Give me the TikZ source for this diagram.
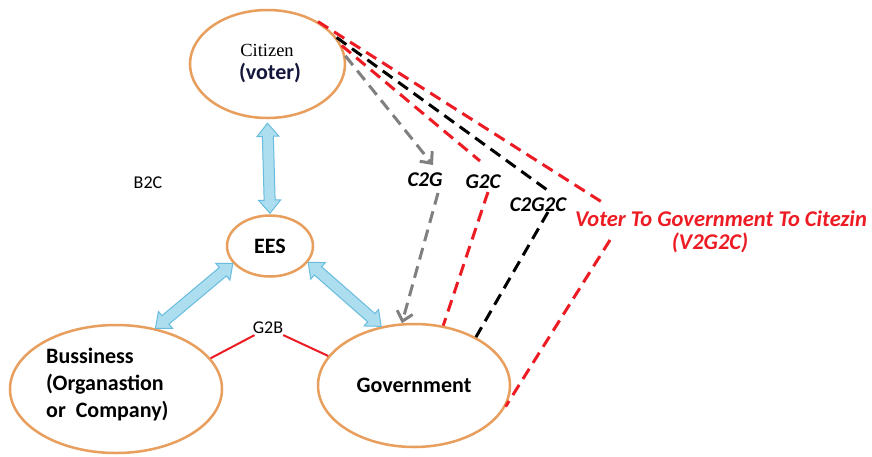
\documentclass[tikz,border=0pt]{standalone}
\usepackage{fontspec}
\setmainfont{Carlito}
\newfontfamily\citserif{Liberation Serif}
\usetikzlibrary{shapes.geometric,shapes.arrows,arrows.meta,calc}

\definecolor{ovalc}{RGB}{232,158,92}
\definecolor{arrowfill}{RGB}{172,222,240}
\definecolor{arrowedge}{RGB}{105,188,222}
\definecolor{linkred}{RGB}{237,28,36}
\definecolor{linkgray}{RGB}{128,128,128}
\definecolor{voterc}{RGB}{20,22,60}

% wide two-headed arrow laid between two points
\newcommand\bluelink[2]{%
  \path let \p1=(#1), \p2=(#2),
    \n1={veclen(\x2-\x1,\y2-\y1)}, \n2={atan2(\y2-\y1,\x2-\x1)} in
    node[bluearrow, minimum height=\n1, rotate=\n2] at ($(#1)!0.5!(#2)$) {\rule{0pt}{10pt}};}

\begin{document}
\begin{tikzpicture}[x=1pt,y=-1pt,
  oval/.style={ellipse, draw=ovalc, line width=2.5pt, inner sep=0pt},
  bluearrow/.style={double arrow, draw=arrowedge, fill=arrowfill, line width=1pt,
    inner sep=0pt, minimum width=0pt, double arrow head extend=5.5pt,
    double arrow tip angle=80},
  bigtext/.style={font=\bfseries\fontsize{22}{27}\selectfont},
  smalltext/.style={font=\fontsize{18}{20}\selectfont, inner sep=1pt},
  flowlabel/.style={font=\bfseries\itshape\fontsize{21}{24}\selectfont},
  dashlink/.style={line width=3pt, dash pattern=on 12pt off 7pt},
  barb/.style={-{Straight Barb[length=9pt,width=16pt,line width=3pt]}}
]
\useasboundingbox[fill=white] (0,0) rectangle (872,456);

% actors
\node[oval, minimum width=155pt, minimum height=108pt] (cit) at (267.5,64) {};
\node[font=\citserif\fontsize{18.5}{20}\selectfont] (citname) at (267,50) {Citizen};
\node[bigtext, text=voterc] (voter) at (270,73) {(voter)};
\node[oval, minimum width=86pt, minimum height=61pt, bigtext] (ees) at (270,246) {EES};
\node[oval, minimum width=212pt, minimum height=128pt] (bus) at (116,389) {};
\node[bigtext, anchor=west, align=left, inner sep=0pt] (busname) at (46,385)
  {Bussiness\\(Organastion\\or~ Company)};
\node[oval, minimum width=192pt, minimum height=123pt, bigtext] (gov) at (414,385.5) {Government};

% exchanges through EES
\bluelink{[yshift=-4pt]cit.south}{[yshift=1pt]ees.north}
\bluelink{ees.205}{bus.57}
\bluelink{ees.-23}{gov.119}

% side labels
\node[smalltext] (b2c) at (148,183) {B2C};
\node[smalltext] (g2b) at (268,328) {G2B};
\draw[linkred, line width=2pt] (bus.18.6) -- (g2b);
\draw[linkred, line width=2pt] (g2b) -- (gov.161.6);

% flow labels
\node[flowlabel] (c2g) at (425,180) {C2G};
\node[flowlabel] (g2c) at (483,182) {G2C};
\node[flowlabel] (c2g2c) at (538,205) {C2G2C};
\node[flowlabel, font=\bfseries\itshape\fontsize{22.5}{24}\selectfont, text=linkred] (v2g2c) at (721,219) {Voter To Government To Citezin};
\node[flowlabel, font=\bfseries\itshape\fontsize{22.5}{24}\selectfont, text=linkred] (v2g2cshort) at (710,243) {(V2G2C)};

% break points around the flow labels
\coordinate (c2gin) at (433,165);
\coordinate (c2gout) at (438,193);
\coordinate (g2cin) at (480,161);
\coordinate (g2cout) at (488,192);
\coordinate (c2g2cin) at (550,192);
\coordinate (c2g2cout) at (548,212);
\coordinate (v2gin) at (605,204);
\coordinate (v2gout) at (610,240);

% citizen - government flows
\draw[dashlink, linkred] (cit.40) -- (v2gin);
\draw[dashlink, linkred] (v2gout) -- (gov.-13);
\draw[dashlink, black] (cit.21) -- (c2g2cin);
\draw[dashlink, black] (c2g2cout) -- (gov.38.5);
\draw[dashlink, linkred] (cit.14) -- (g2cin);
\draw[dashlink, linkred] (g2cout) -- (gov.64);
\draw[dashlink, linkgray, barb] (cit.6) -- (c2gin);
\draw[dashlink, linkgray, barb] (c2gout) -- (gov.101);
\end{tikzpicture}
\end{document}
